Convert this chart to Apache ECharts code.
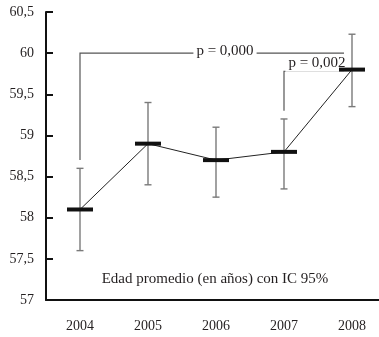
<!DOCTYPE html>
<html>
<head>
<meta charset="utf-8">
<script src="https://cdn.jsdelivr.net/npm/echarts@6/dist/echarts.min.js"></script>
<style>
html,body{margin:0;padding:0;background:#fff;}
#chart{width:379px;height:337px;}
</style>
</head>
<body>
<div id="chart"></div>
<script>
const categories = ['2004', '2005', '2006', '2007', '2008'];
const means = [58.1, 58.9, 58.7, 58.8, 59.8];
const ciLow = [57.6, 58.4, 58.25, 58.35, 59.35];
const ciHigh = [58.6, 59.4, 59.1, 59.2, 60.23];
const yMin = 57, yMax = 60.5, yStep = 0.5;
const bracketFrom = [0, 3];
const bracketTo = [4, 4];
const bracketLow = [58.7, 59.3];
const bracketHigh = [60.0, 59.78];
const bracketLabels = ['p = 0,000', 'p = 0,002'];
const note = 'Edad promedio (en años) con IC 95%';

const FONT = 'Liberation Serif';
const TXT = '#231f20';
const labelShift = [[13, -2], [3, -8]];

const chart = echarts.init(document.getElementById('chart'));
chart.setOption({
  animation: false,
  grid: { left: 46, top: 12, bottom: 37, width: 340, containLabel: false, outerBoundsMode: 'none' },
  xAxis: {
    type: 'category',
    data: categories,
    boundaryGap: true,
    axisLine: { lineStyle: { color: '#111', width: 2 } },
    axisTick: { inside: true, length: 5, lineStyle: { color: '#111', width: 1.5 } },
    axisLabel: { fontFamily: FONT, fontSize: 14, color: TXT, margin: 19 },
    splitLine: { show: false }
  },
  yAxis: {
    type: 'value',
    min: yMin, max: yMax, interval: yStep,
    axisLine: { show: true, lineStyle: { color: '#111', width: 2 } },
    axisTick: { show: true, inside: true, length: 7, lineStyle: { color: '#111', width: 2 } },
    axisLabel: { fontFamily: FONT, fontSize: 14, color: TXT, margin: 12,
      formatter: v => String(v).replace('.', ',') },
    splitLine: { show: false }
  },
  graphic: [{
    type: 'text', x: 215, y: 279,
    style: { text: note, font: '15px "' + FONT + '"', fill: TXT, align: 'center', verticalAlign: 'middle' }
  }],
  series: [
    {
      type: 'custom',
      data: bracketFrom.map((f, i) => [f, bracketTo[i], bracketLow[i], bracketHigh[i]]),
      renderItem: (params, api) => {
        const i = params.dataIndex;
        const p1 = api.coord([api.value(0), api.value(2)]);
        const p2 = api.coord([api.value(0), api.value(3)]);
        const p3 = api.coord([api.value(1), api.value(3)]);
        const endX = p3[0] - 8;
        return {
          type: 'group',
          children: [
            { type: 'polyline', shape: { points: [[p1[0], p1[1]], [p2[0], p2[1]], [endX, p2[1]]] },
              style: { stroke: '#555', lineWidth: 1.2, fill: null } },
            { type: 'text', z2: 10,
              style: { text: bracketLabels[i], x: (p2[0] + endX) / 2 + labelShift[i][0], y: p2[1] + labelShift[i][1],
                align: 'center', verticalAlign: 'middle', font: '15px "' + FONT + '"', fill: TXT,
                backgroundColor: '#fff', padding: [1, 3, 1, 3] } }
          ]
        };
      },
      z: 1
    },
    {
      type: 'custom',
      data: categories.map((c, i) => [i, ciLow[i], ciHigh[i]]),
      renderItem: (params, api) => {
        const lo = api.coord([api.value(0), api.value(1)]);
        const hi = api.coord([api.value(0), api.value(2)]);
        const w = 3.5;
        const st = { stroke: '#7a7a7a', lineWidth: 1.4 };
        return {
          type: 'group',
          children: [
            { type: 'line', shape: { x1: lo[0], y1: lo[1], x2: hi[0], y2: hi[1] }, style: st },
            { type: 'line', shape: { x1: lo[0] - w, y1: lo[1], x2: lo[0] + w, y2: lo[1] }, style: st },
            { type: 'line', shape: { x1: hi[0] - w, y1: hi[1], x2: hi[0] + w, y2: hi[1] }, style: st }
          ]
        };
      },
      z: 2
    },
    {
      type: 'line',
      data: means,
      symbol: 'rect',
      symbolSize: [26, 4],
      itemStyle: { color: '#111' },
      lineStyle: { color: '#222', width: 1 },
      z: 3
    }
  ]
});
</script>
</body>
</html>
